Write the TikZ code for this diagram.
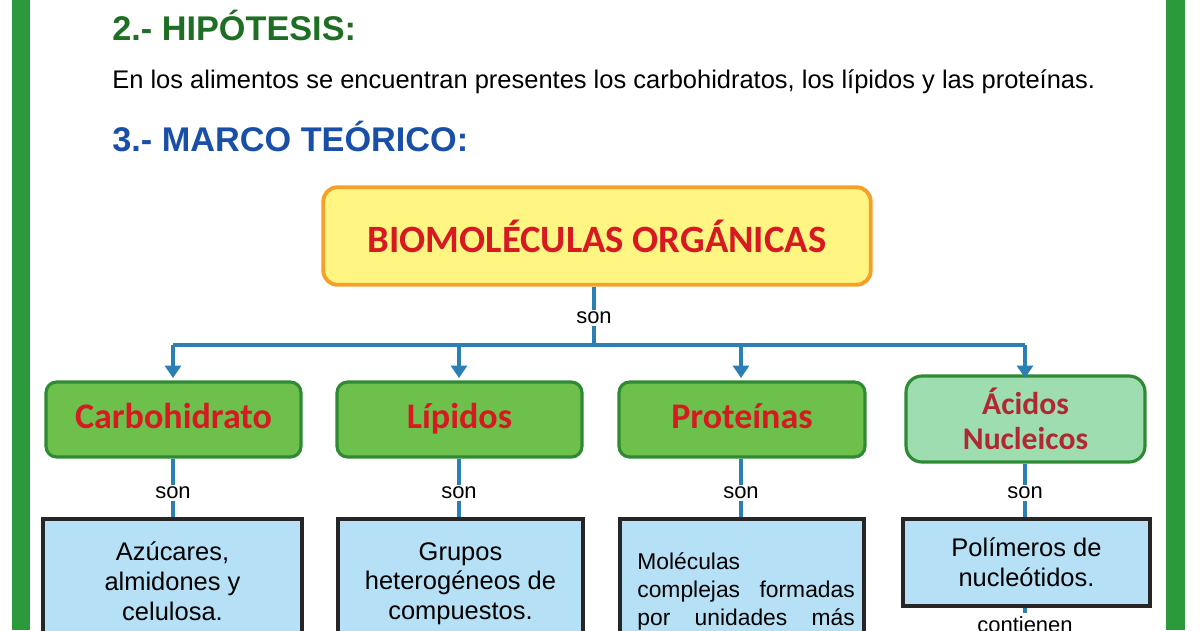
\documentclass[tikz,border=0pt]{standalone}
\usepackage{fontspec}
\setmainfont{Liberation Sans}
\newfontfamily\carlitofont{Carlito}
\usetikzlibrary{arrows.meta}
\definecolor{lnk}{HTML}{2B7FB5}
\definecolor{gfill}{HTML}{6DC04B}
\definecolor{gdraw}{HTML}{2F8A34}
\definecolor{lgfill}{HTML}{9EDDB0}
\definecolor{bfill}{HTML}{B5E0F5}
\definecolor{rtxt}{HTML}{D71A21}
\definecolor{hgreen}{HTML}{1E6E23}
\definecolor{hblue}{HTML}{1A4FA8}
\definecolor{bar}{HTML}{2A9A3A}
\tikzset{
 gbox/.style={draw=gdraw,line width=1.8pt,fill=gfill,rounded corners=6pt,minimum width=5.1cm,minimum height=1.5cm,font=\carlitofont\bfseries\fontsize{20.5}{23}\selectfont,text=rtxt,align=center,text height=14pt,text depth=4pt},
 bbox/.style={draw=black!85,line width=2pt,fill=bfill,inner sep=0pt,align=center},
 btext/.style={align=center,font=\fontsize{14.5}{16.8}\selectfont,anchor=north},
 lnkline/.style={draw=lnk,line width=1.8pt},
 arr/.style={lnkline,-{Triangle[length=7pt,width=9pt]}},
 lab/.style={font=\fontsize{12.5}{14}\selectfont,fill=white,inner sep=1pt}
}
\begin{document}
\begin{tikzpicture}[x=0.02cm,y=-0.02cm]
\useasboundingbox (0,0) rectangle (1200,630);
\fill[white] (0,0) rectangle (1200,630);
\fill[bar] (12,0) rectangle (30,630);
\fill[bar] (1166,0) rectangle (1185,630);
\node[anchor=west,inner sep=0pt,text=hgreen,font=\bfseries\fontsize{19.5}{22}\selectfont] (h2) at (112,25) {2.- HIPÓTESIS:};
\node[anchor=west,inner sep=0pt,font=\fontsize{14.5}{16}\selectfont] (hyp) at (112,82) {En los alimentos se encuentran presentes los carbohidratos, los lípidos y las proteínas.};
\node[anchor=west,inner sep=0pt,text=hblue,font=\bfseries\fontsize{19.5}{22}\selectfont] (h3) at (112,137) {3.- MARCO TEÓRICO:};

\node[draw={rgb,255:red,245;green,160;blue,40},line width=2.2pt,fill={rgb,255:red,255;green,245;blue,130},rounded corners=8pt,minimum width=10.95cm,minimum height=1.95cm,font=\carlitofont\bfseries\fontsize{22}{24}\selectfont,text=rtxt] (bio) at (597,236) {BIOMOLÉCULAS ORGÁNICAS};

\coordinate (j) at (594,345);
\coordinate (jl) at (173,345);
\coordinate (jr) at (1025,345);
\draw[lnkline] (bio.south -| j) -- (j);
\node[lab] (son0) at (594,318) {son};
\draw[lnkline] (jl) -- (jr);

\node[gbox] (c1) at (173.5,419.5) {Carbohidrato};
\node[gbox,minimum width=4.9cm] (c2) at (459.5,419.5) {Lípidos};
\node[gbox,minimum width=4.92cm] (c3) at (742,419.5) {Proteínas};
\node[gbox,fill=lgfill,rounded corners=9pt,minimum width=4.78cm,minimum height=1.72cm,text height=,text depth=,font=\carlitofont\bfseries\fontsize{18}{20}\selectfont,text={rgb,255:red,175;green,40;blue,50}] (c4) at (1025.5,419) {Ácidos\\Nucleicos};

\foreach \x/\n in {173/c1,459/c2,741/c3,1025/c4}{
  \coordinate (t\n) at (\x,345);
  \draw[arr] (t\n) -- (\x,378);
}

\node[bbox,minimum width=5.18cm,minimum height=2.6cm,anchor=north] (b1) at (172.5,517) {};
\node[bbox,minimum width=4.9cm,minimum height=2.6cm,anchor=north] (b2) at (460.5,517) {};
\node[bbox,minimum width=4.88cm,minimum height=2.6cm,anchor=north] (b3) at (742,517) {};
\node[bbox,minimum width=4.94cm,minimum height=1.74cm,anchor=north] (b4) at (1026.5,517) {};

\node[btext] (tx1) at (172.5,536) {Azúcares,\\almidones y\\celulosa.};
\node[btext] (tx2) at (460.5,536) {Grupos\\heterogéneos de\\compuestos.};
\node[align=left,text width=4.35cm,inner sep=0pt,font=\fontsize{13}{15.9}\selectfont,anchor=north west] (tx3) at (637,552) {Moléculas\\complejas\hfill formadas\\por\hfill unidades\hfill más};
\node[btext] (tx4) at (1026.5,532) {Polímeros de\\nucleótidos.};

\foreach \n/\m/\x in {c1/b1/173,c2/b2/459,c3/b3/741,c4/b4/1025}{
  \draw[lnkline] (\n.south -| \x,0) -- (\m.north -| \x,0);
  \node[lab] (s\n) at (\x,493) {son};
}
\draw[lnkline] (b4.south -| 1025,0) -- (1025,613);
\node[font=\fontsize{12.5}{14}\selectfont,anchor=north,inner sep=1pt] (cont) at (1025,614) {contienen};
\end{tikzpicture}
\end{document}
